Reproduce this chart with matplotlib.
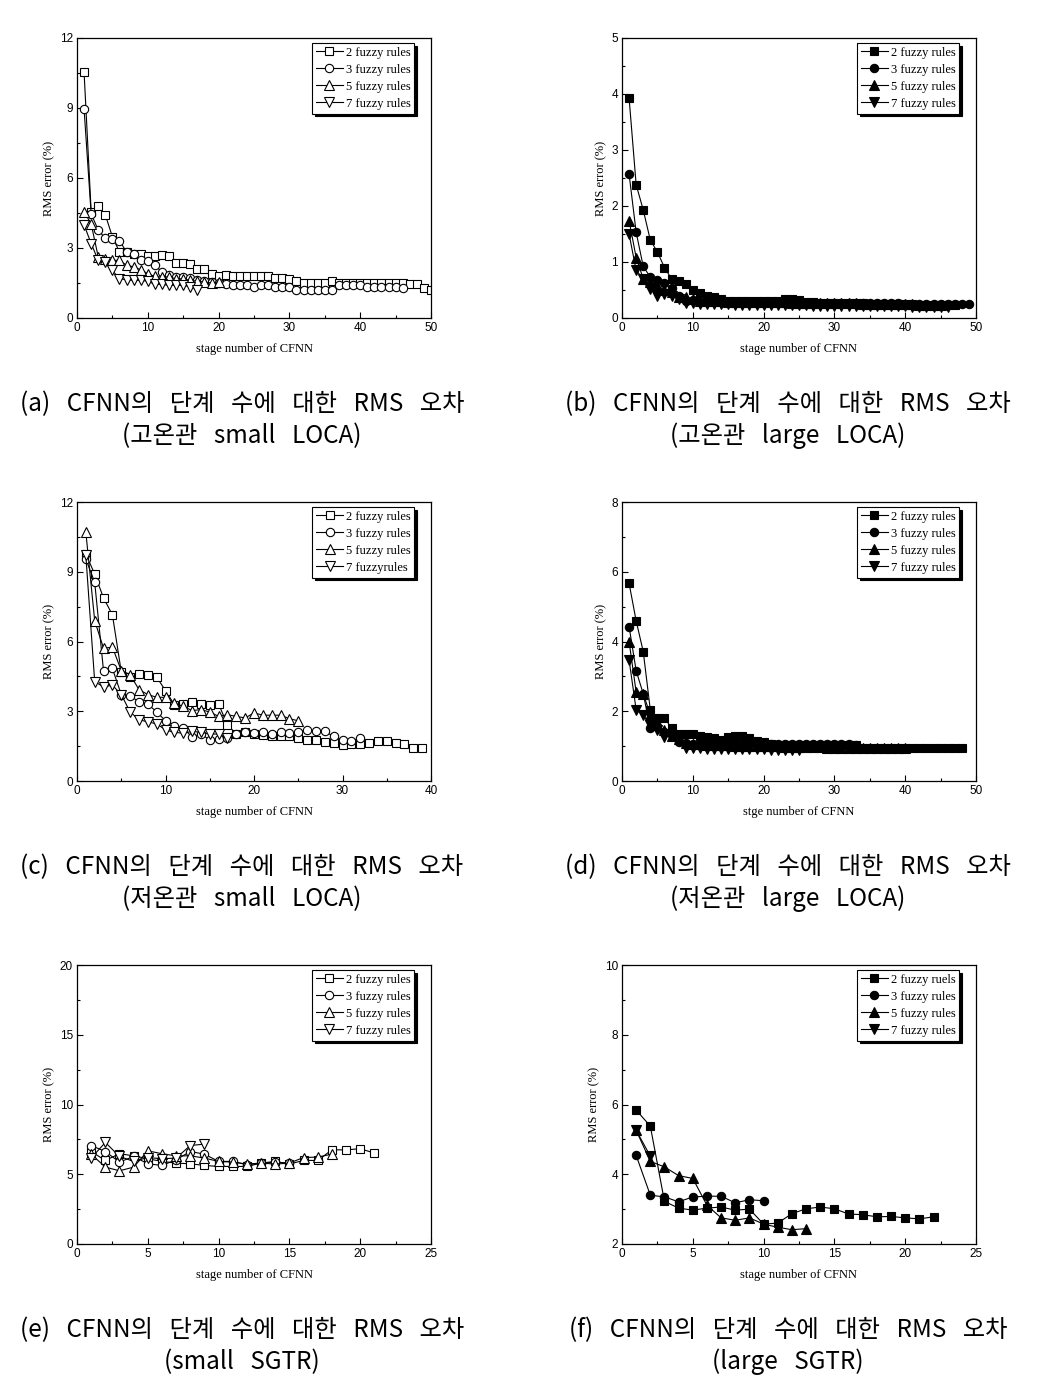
import numpy as np
import matplotlib
matplotlib.use("Agg")
import matplotlib.pyplot as plt
from matplotlib import font_manager
from matplotlib.ticker import MultipleLocator

# --- data (stage number -> RMS error %)
a_r2 = [10.53, 4.56, 4.78, 4.42, 3.48, 2.83, 2.83, 2.73, 2.73, 2.65, 2.65, 2.69, 2.65, 2.37, 2.37,
        2.33, 2.09, 2.09, 1.90, 1.78, 1.86, 1.81, 1.81, 1.81, 1.81, 1.81, 1.81, 1.73, 1.73, 1.68,
        1.57, 1.51, 1.51, 1.51, 1.51, 1.57, 1.51, 1.51, 1.51, 1.51, 1.48, 1.51, 1.51, 1.51, 1.51,
        1.48, 1.44, 1.44, 1.27, 1.21]
a_r3 = [8.95, 4.46, 3.77, 3.41, 3.38, 3.31, 2.83, 2.73, 2.47, 2.43, 2.26, 1.97, 1.83, 1.76, 1.76,
        1.73, 1.61, 1.58, 1.54, 1.50, 1.44, 1.40, 1.40, 1.40, 1.35, 1.40, 1.40, 1.32, 1.32, 1.32,
        1.21, 1.21, 1.21, 1.21, 1.21, 1.21, 1.40, 1.40, 1.40, 1.40, 1.32, 1.35, 1.35, 1.35, 1.32, 1.30]
a_r5 = [4.56, 4.03, 2.62, 2.55, 2.47, 2.47, 2.26, 2.19, 2.07, 1.90, 1.78, 1.76, 1.76, 1.68, 1.68,
        1.61, 1.58, 1.54, 1.50, 1.54]
a_r7 = [3.99, 3.19, 2.47, 2.40, 2.04, 1.68, 1.64, 1.61, 1.61, 1.58, 1.44, 1.44, 1.40, 1.40, 1.40,
        1.35, 1.21]

b_r2 = [3.93, 2.38, 1.93, 1.39, 1.18, 0.90, 0.70, 0.66, 0.61, 0.50, 0.45, 0.39, 0.37, 0.34, 0.31,
        0.31, 0.31, 0.31, 0.31, 0.31, 0.31, 0.31, 0.34, 0.34, 0.32, 0.28, 0.28, 0.27, 0.27, 0.27,
        0.26, 0.26, 0.26, 0.26, 0.25, 0.25, 0.25, 0.25, 0.25, 0.25, 0.25, 0.24, 0.24, 0.24, 0.24,
        0.24, 0.24]
b_r3 = [2.57, 1.53, 0.92, 0.73, 0.68, 0.63, 0.53, 0.40, 0.30, 0.32, 0.28, 0.28, 0.28, 0.28, 0.28,
        0.28, 0.28, 0.28, 0.28, 0.28, 0.28, 0.27, 0.27, 0.27, 0.27, 0.27, 0.27, 0.27, 0.27, 0.27,
        0.26, 0.26, 0.26, 0.26, 0.26, 0.26, 0.26, 0.26, 0.26, 0.25, 0.25, 0.25, 0.25, 0.25, 0.25,
        0.25, 0.25, 0.25, 0.25]
b_r5 = [1.74, 1.08, 0.70, 0.64, 0.58, 0.50, 0.46, 0.38, 0.37, 0.34, 0.31, 0.30, 0.30, 0.30, 0.29,
        0.29, 0.29, 0.29, 0.28, 0.28, 0.28, 0.28, 0.28, 0.27, 0.27, 0.27, 0.27, 0.26, 0.26, 0.26,
        0.26, 0.26, 0.26, 0.25, 0.25, 0.25, 0.25, 0.25, 0.25, 0.25, 0.25, 0.24, 0.24, 0.24, 0.24]
b_r7 = [1.50, 0.85, 0.70, 0.52, 0.40, 0.43, 0.40, 0.34, 0.26, 0.26, 0.25, 0.25, 0.25, 0.25, 0.25,
        0.24, 0.24, 0.24, 0.24, 0.24, 0.23, 0.23, 0.23, 0.23, 0.23, 0.23, 0.22, 0.22, 0.22, 0.22,
        0.22, 0.22, 0.21, 0.21, 0.21, 0.21, 0.21, 0.21, 0.21, 0.21, 0.20, 0.20, 0.20, 0.20, 0.20,
        0.20]

c_r2 = [9.76, 8.90, 7.87, 7.15, 4.70, 4.49, 4.60, 4.58, 4.47, 3.89, 3.28, 3.31, 3.40, 3.31, 3.28,
        3.31, 2.42, 2.02, 2.10, 2.02, 1.96, 1.92, 1.92, 1.92, 1.87, 1.77, 1.77, 1.67, 1.63, 1.53,
        1.58, 1.58, 1.63, 1.73, 1.70, 1.63, 1.58, 1.44, 1.41]
c_r3 = [9.55, 8.54, 4.73, 4.84, 3.72, 3.67, 3.40, 3.31, 2.97, 2.59, 2.38, 2.28, 1.89, 2.02, 1.77,
        1.82, 1.87, 2.02, 2.09, 2.06, 2.10, 2.03, 2.10, 2.06, 2.10, 2.20, 2.13, 2.13, 1.92, 1.77,
        1.73, 1.84]
c_r5 = [10.70, 6.89, 5.71, 5.76, 4.75, 4.58, 3.93, 3.72, 3.60, 3.60, 3.36, 3.21, 3.03, 3.07, 2.97,
        2.78, 2.85, 2.78, 2.71, 2.93, 2.83, 2.83, 2.83, 2.68, 2.59]
c_r7 = [9.70, 4.27, 4.05, 4.12, 3.72, 2.97, 2.64, 2.54, 2.46, 2.20, 2.09, 2.06, 2.13, 2.10, 2.02,
        2.02, 1.84]

d_r2 = [5.67, 4.59, 3.71, 2.04, 1.82, 1.82, 1.51, 1.34, 1.34, 1.34, 1.30, 1.27, 1.22, 1.18, 1.27,
        1.30, 1.30, 1.22, 1.15, 1.11, 1.05, 1.03, 1.03, 1.03, 1.03, 1.03, 1.03, 1.03, 1.03, 1.03,
        1.03, 1.03, 1.03, 0.95, 0.95, 0.95, 0.94, 0.96, 0.94, 0.94, 0.94, 0.94, 0.94, 0.94, 0.94,
        0.94, 0.94, 0.94]
d_r3 = [4.43, 3.16, 2.50, 1.51, 1.59, 1.40, 1.32, 1.13, 1.08, 1.06, 1.06, 1.05, 1.05, 1.05, 1.05,
        1.05, 1.05, 1.05, 1.05, 1.05, 1.05, 1.05, 1.05, 1.05, 1.05, 1.05, 1.05, 1.05, 1.05, 1.05,
        1.05, 1.05, 1.03]
d_r5 = [4.00, 2.55, 2.50, 1.90, 1.60, 1.45, 1.30, 1.20, 1.10, 1.06, 1.05, 1.04, 1.03, 1.02, 1.02,
        1.01, 1.01, 1.00, 1.00, 1.00, 0.99, 0.99, 0.98, 0.98, 0.98, 0.97, 0.97, 0.97, 0.96, 0.96,
        0.96, 0.96, 0.96, 0.95, 0.95, 0.95, 0.95, 0.95, 0.95, 0.95]
d_r7 = [3.47, 2.04, 1.89, 1.60, 1.46, 1.27, 1.32, 1.15, 0.94, 0.95, 0.94, 0.93, 0.93, 0.93, 0.92,
        0.92, 0.92, 0.91, 0.91, 0.91, 0.90, 0.90, 0.90, 0.90, 0.90]

e_r2 = [6.63, 5.99, 6.47, 6.32, 6.11, 5.92, 5.80, 5.75, 5.63, 5.56, 5.56, 5.56, 5.80, 5.92, 5.73,
        5.99, 5.99, 6.75, 6.75, 6.83, 6.52]
e_r3 = [7.06, 6.63, 5.87, 6.28, 5.75, 5.63, 6.04, 6.63, 6.44, 5.92, 5.92, 5.68, 5.80, 5.87, 5.80]
e_r5 = [6.44, 5.51, 5.25, 5.51, 6.68, 6.47, 6.32, 6.32, 6.16, 5.92, 5.87, 5.73, 5.80, 5.73, 5.80,
        6.20, 6.23, 6.44]
e_r7 = [6.16, 7.28, 6.28, 5.92, 6.20, 6.11, 6.16, 7.06, 7.16]

f_r2 = [5.84, 5.38, 3.22, 3.03, 2.97, 3.03, 3.06, 2.97, 3.00, 2.57, 2.60, 2.87, 3.01, 3.06, 3.01,
        2.86, 2.84, 2.78, 2.79, 2.75, 2.72, 2.78]
f_r3 = [4.54, 3.40, 3.35, 3.21, 3.35, 3.37, 3.37, 3.18, 3.27, 3.24]
f_r5 = [5.26, 4.37, 4.21, 3.96, 3.88, 3.11, 2.75, 2.68, 2.75, 2.57, 2.48, 2.41, 2.44]
f_r7 = [5.26, 4.52]

labels_std = ["2 fuzzy rules", "3 fuzzy rules", "5 fuzzy rules", "7 fuzzy rules"]
labels_c = ["2 fuzzy rules", "3 fuzzy rules", "5 fuzzy rules", "7 fuzzyrules"]
labels_f = ["2 fuzzy ruels", "3 fuzzy rules", "5 fuzzy rules", "7 fuzzy rules"]

captions = [
    ("(a)   CFNN의   단계   수에   대한   RMS   오차", "(고온관   small   LOCA)"),
    ("(b)   CFNN의   단계   수에   대한   RMS   오차", "(고온관   large   LOCA)"),
    ("(c)   CFNN의   단계   수에   대한   RMS   오차", "(저온관   small   LOCA)"),
    ("(d)   CFNN의   단계   수에   대한   RMS   오차", "(저온관   large   LOCA)"),
    ("(e)   CFNN의   단계   수에   대한   RMS   오차", "(small   SGTR)"),
    ("(f)   CFNN의   단계   수에   대한   RMS   오차", "(large   SGTR)"),
]

names = {f.name for f in font_manager.fontManager.ttflist}
tick_font = "Liberation Sans Narrow" if "Liberation Sans Narrow" in names else "Liberation Sans"
serif = "Liberation Serif"
cjk = ["Noto Sans CJK KR", "DejaVu Sans"]

W, H = 1046, 1389
fig = plt.figure(figsize=(W / 100, H / 100), dpi=100)

markers = ["s", "o", "^", "v"]


def make_axes(left_px, top_px, right_px, bottom_px):
    return fig.add_axes([left_px / W, 1 - bottom_px / H,
                         (right_px - left_px) / W, (bottom_px - top_px) / H])


def panel(ax, series, labels, filled, xmax, xstep, ymin, ymax, ystep, xlabel):
    face = "black" if filled else "white"
    for s, m, lab in zip(series, markers, labels):
        x = np.arange(1, len(s) + 1)
        ax.plot(x, s, color="black", lw=0.8, marker=m, ms=6 if m in "s o" else 6.5,
                mfc=face, mec="black", mew=0.8, label=lab)
    ax.set_xlim(0, xmax)
    ax.set_ylim(ymin, ymax)
    ax.xaxis.set_major_locator(MultipleLocator(xstep))
    ax.xaxis.set_minor_locator(MultipleLocator(xstep / 2))
    ax.yaxis.set_major_locator(MultipleLocator(ystep))
    ax.yaxis.set_minor_locator(MultipleLocator(ystep / 2))
    ax.tick_params(which="both", direction="in", top=False, right=False,
                   labelsize=8.5, pad=3, width=0.8)
    ax.tick_params(which="major", length=4)
    ax.tick_params(which="minor", length=2)
    for lbl in ax.get_xticklabels() + ax.get_yticklabels():
        lbl.set_fontfamily(tick_font)
    for sp in ax.spines.values():
        sp.set_linewidth(0.9)
    ax.set_xlabel(xlabel, fontfamily=serif, fontsize=9)
    ax.xaxis.set_label_coords(0.5, -0.09)
    ax.set_ylabel("RMS error (%)", fontfamily=serif, fontsize=9, labelpad=3)
    leg = ax.legend(loc="upper right", bbox_to_anchor=(0.953, 0.982), borderaxespad=0,
                    frameon=True, fancybox=False, shadow={"color": "black", "alpha": 1},
                    prop={"family": serif, "size": 9}, labelspacing=0.4,
                    handlelength=2.2, handletextpad=0.2, borderpad=0.3)
    leg.get_frame().set_edgecolor("black")
    leg.get_frame().set_linewidth(0.8)


ax_a = make_axes(77, 38, 431, 318)
panel(ax_a, [a_r2, a_r3, a_r5, a_r7], labels_std, False, 50, 10, 0, 12, 3, "stage number of CFNN")

ax_b = make_axes(622, 38, 976, 318)
panel(ax_b, [b_r2, b_r3, b_r5, b_r7], labels_std, True, 50, 10, 0, 5, 1, "stage number of CFNN")

ax_c = make_axes(77, 502, 431, 781)
panel(ax_c, [c_r2, c_r3, c_r5, c_r7], labels_c, False, 40, 10, 0, 12, 3, "stage number of CFNN")

ax_d = make_axes(622, 502, 976, 781)
panel(ax_d, [d_r2, d_r3, d_r5, d_r7], labels_std, True, 50, 10, 0, 8, 2, "stge number of CFNN")

ax_e = make_axes(77, 965, 431, 1244)
panel(ax_e, [e_r2, e_r3, e_r5, e_r7], labels_std, False, 25, 5, 0, 20, 5, "stage number of CFNN")

ax_f = make_axes(622, 965, 976, 1244)
panel(ax_f, [f_r2, f_r3, f_r5, f_r7], labels_f, True, 25, 5, 2, 10, 2, "stage number of CFNN")

# captions under each panel
cap_x = [242, 788]
cap_y = [(404, 436), (867, 899), (1330, 1362)]
for i, (l1, l2) in enumerate(captions):
    cx = cap_x[i % 2] / W
    y1, y2 = cap_y[i // 2]
    fig.text(cx, 1 - y1 / H, l1, ha="center", va="center", fontsize=17.5, family=cjk)
    fig.text(cx, 1 - y2 / H, l2, ha="center", va="center", fontsize=17.5, family=cjk)

fig.savefig("out.png", dpi=100)
